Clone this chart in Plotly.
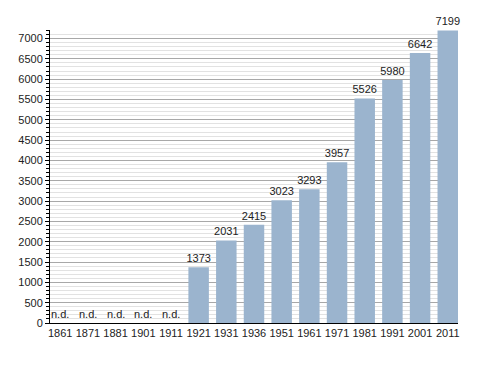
import plotly.graph_objects as go

years = ["1861", "1871", "1881", "1901", "1911", "1921", "1931", "1936",
         "1951", "1961", "1971", "1981", "1991", "2001", "2011"]
population = [None, None, None, None, None, 1373, 2031, 2415,
              3023, 3293, 3957, 5526, 5980, 6642, 7199]
missing_label = "n.d."

bar_years = [y for y, v in zip(years, population) if v is not None]
bar_vals = [v for v in population if v is not None]
nd_index = [i for i, v in enumerate(population) if v is None]

font = dict(family="Liberation Sans, Arial, sans-serif", size=11, color="#222222")

fig = go.Figure()
fig.add_trace(go.Bar(
    x=bar_years, y=bar_vals,
    marker=dict(color="#9bb4ce", line=dict(width=0)),
    text=[str(v) for v in bar_vals], textposition="outside",
    constraintext="none",
    textfont=font, cliponaxis=False, hoverinfo="x+y",
))
for i in nd_index:
    fig.add_annotation(x=i, y=0, xref="x", yref="y", text=missing_label,
                       showarrow=False, yanchor="bottom", xanchor="center",
                       yshift=1, font=font)

# page body has an 8px default margin, so the figure is shifted by 8px
fig.update_layout(
    width=480, height=365,
    margin=dict(l=42, r=30, t=22, b=50, autoexpand=False),
    paper_bgcolor="white", plot_bgcolor="white",
    showlegend=False, bargap=0.26, font=font,
)
fig.update_xaxes(
    type="category", categoryorder="array", categoryarray=years,
    range=[-0.37, 14.37], showgrid=False, showline=True,
    linecolor="black", linewidth=1, ticks="", tickfont=font, zeroline=False,
    automargin=False,
)
fig.update_yaxes(
    range=[0, 7210], dtick=500, tick0=0, showline=True, linecolor="black",
    linewidth=1, ticks="outside", ticklen=4, tickcolor="black",
    gridcolor="#a8a8a8", gridwidth=1, zeroline=False, tickfont=font,
    automargin=False,
    minor=dict(dtick=100, showgrid=True, gridcolor="#e2e2e2",
               ticks="outside", ticklen=3, tickcolor="black"),
)

fig.write_html("out.html")
